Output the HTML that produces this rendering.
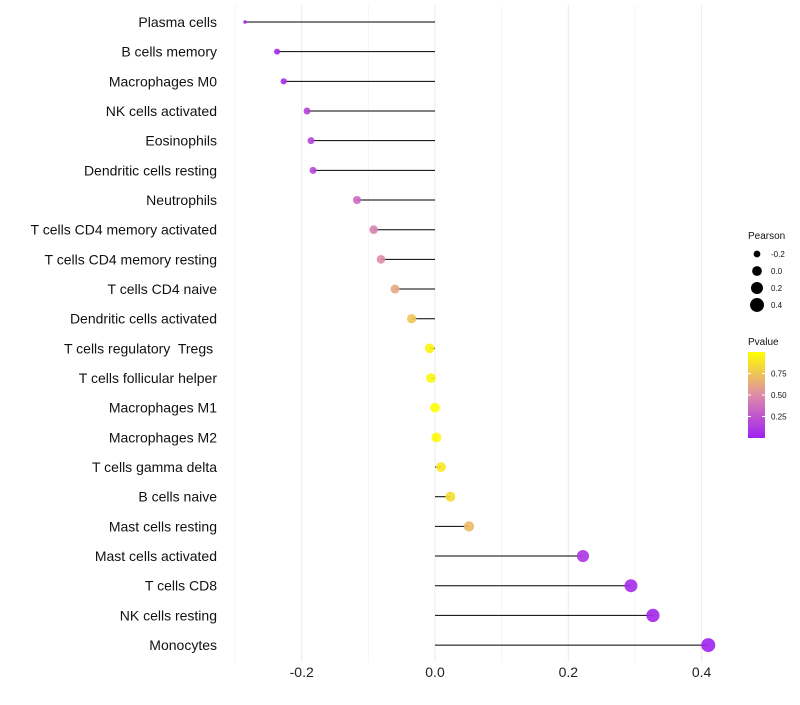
<!DOCTYPE html>
<html><head><meta charset="utf-8"><style>
body{margin:0;background:#fff;font-family:"Liberation Sans",sans-serif}
text{white-space:pre}
</style></head><body>
<svg id="c" width="800" height="700" xmlns="http://www.w3.org/2000/svg"></svg>
<script>
const categories=["Plasma cells","B cells memory","Macrophages M0","NK cells activated","Eosinophils","Dendritic cells resting","Neutrophils","T cells CD4 memory activated","T cells CD4 memory resting","T cells CD4 naive","Dendritic cells activated","T cells regulatory  Tregs ","T cells follicular helper","Macrophages M1","Macrophages M2","T cells gamma delta","B cells naive","Mast cells resting","Mast cells activated","T cells CD8","NK cells resting","Monocytes"];
const pearson=[-0.285,-0.237,-0.227,-0.192,-0.186,-0.183,-0.117,-0.092,-0.081,-0.060,-0.035,-0.008,-0.006,0.0,0.002,0.009,0.023,0.051,0.222,0.294,0.327,0.41];
const pvalue=[0.0,0.05,0.07,0.15,0.17,0.18,0.35,0.45,0.5,0.62,0.75,0.95,0.96,0.99,0.98,0.9,0.85,0.7,0.1,0.05,0.03,0.01];
const xTicks=[-0.2,0.0,0.2,0.4];
const xMinor=[-0.3,-0.1,0.1,0.3];
const sizeLegend=[-0.2,0.0,0.2,0.4];
const colorLegend=[0.25,0.5,0.75];

const svg=document.getElementById('c');
const NS="http://www.w3.org/2000/svg";
const x=v=>435+v*666.5;
const y=i=>22+i*29.67;
const pmin=Math.min(...pearson),pmax=Math.max(...pearson);
const r=v=>{const t=Math.max(0,(v-pmin)/(pmax-pmin));return t<0.01?1.8:Math.sqrt(6.2+42.8*t);};
function col(p){
  const stops=[[0,[160,32,240]],[0.5,[222,140,170]],[1,[255,255,0]]];
  let a=stops[0],b=stops[1];if(p>0.5){a=stops[1];b=stops[2];}
  const t=(p-a[0])/(b[0]-a[0]);
  const c=a[1].map((v,k)=>Math.round(v+(b[1][k]-v)*t));
  return `rgb(${c})`;
}
function el(tag,attrs,name,text){
  const e=document.createElementNS(NS,tag);
  for(const k in attrs)e.setAttribute(k,attrs[k]);
  
  
  if(text!==undefined)e.textContent=text;
  svg.appendChild(e);return e;
}
xMinor.forEach(v=>el('line',{x1:x(v),x2:x(v),y1:5,y2:662,stroke:'#f4f4f4','stroke-width':1},'minor-gridline'));
xTicks.forEach(v=>el('line',{x1:x(v),x2:x(v),y1:5,y2:662,stroke:'#ebebeb','stroke-width':1},'major-gridline'));
xTicks.forEach(v=>el('text',{x:x(v),y:677,'text-anchor':'middle','font-size':14,fill:'#222'},'x-tick-label',v.toFixed(1)));
categories.forEach((c,i)=>{
  el('text',{x:217,y:y(i)+5,'text-anchor':'end','font-size':14,fill:'#111'},'y-tick-label',c);
  el('line',{x1:x(0),x2:x(pearson[i]),y1:y(i),y2:y(i),stroke:'#000','stroke-width':1},'stem-line');
  el('circle',{cx:x(pearson[i]),cy:y(i),r:r(pearson[i]),fill:col(pvalue[i]),'fill-opacity':0.9},'point-'+c.trim().toLowerCase().replace(/\s+/g,'-'));
});
el('text',{x:748,y:239,'font-size':10,fill:'#111'},'size-legend-title','Pearson');
sizeLegend.forEach((v,i)=>{
  el('circle',{cx:757,cy:254+i*17,r:r(v),fill:'#000'},'size-legend-key');
  el('text',{x:771,y:257+i*17,'font-size':8,fill:'#111'},'size-legend-label',v.toFixed(1));
});
el('text',{x:748,y:345,'font-size':10,fill:'#111'},'color-legend-title','Pvalue');
const defs=document.createElementNS(NS,'defs');
defs.innerHTML='<linearGradient id="g" x1="0" y1="1" x2="0" y2="0"><stop offset="0" stop-color="'+col(0)+'"/><stop offset="0.5" stop-color="'+col(0.5)+'"/><stop offset="1" stop-color="'+col(1)+'"/></linearGradient>';
svg.appendChild(defs);
el('rect',{x:748,y:352,width:17,height:86,fill:'url(#g)'},'color-legend-bar');
colorLegend.forEach(v=>{
  const yy=438-v*86;
  el('line',{x1:748,x2:751,y1:yy,y2:yy,stroke:'#fff'},'color-legend-tick');
  el('line',{x1:762,x2:765,y1:yy,y2:yy,stroke:'#fff'},'color-legend-tick');
  el('text',{x:771,y:yy+3,'font-size':8,fill:'#111'},'color-legend-label',v.toFixed(2));
});
</script>
</body></html>
